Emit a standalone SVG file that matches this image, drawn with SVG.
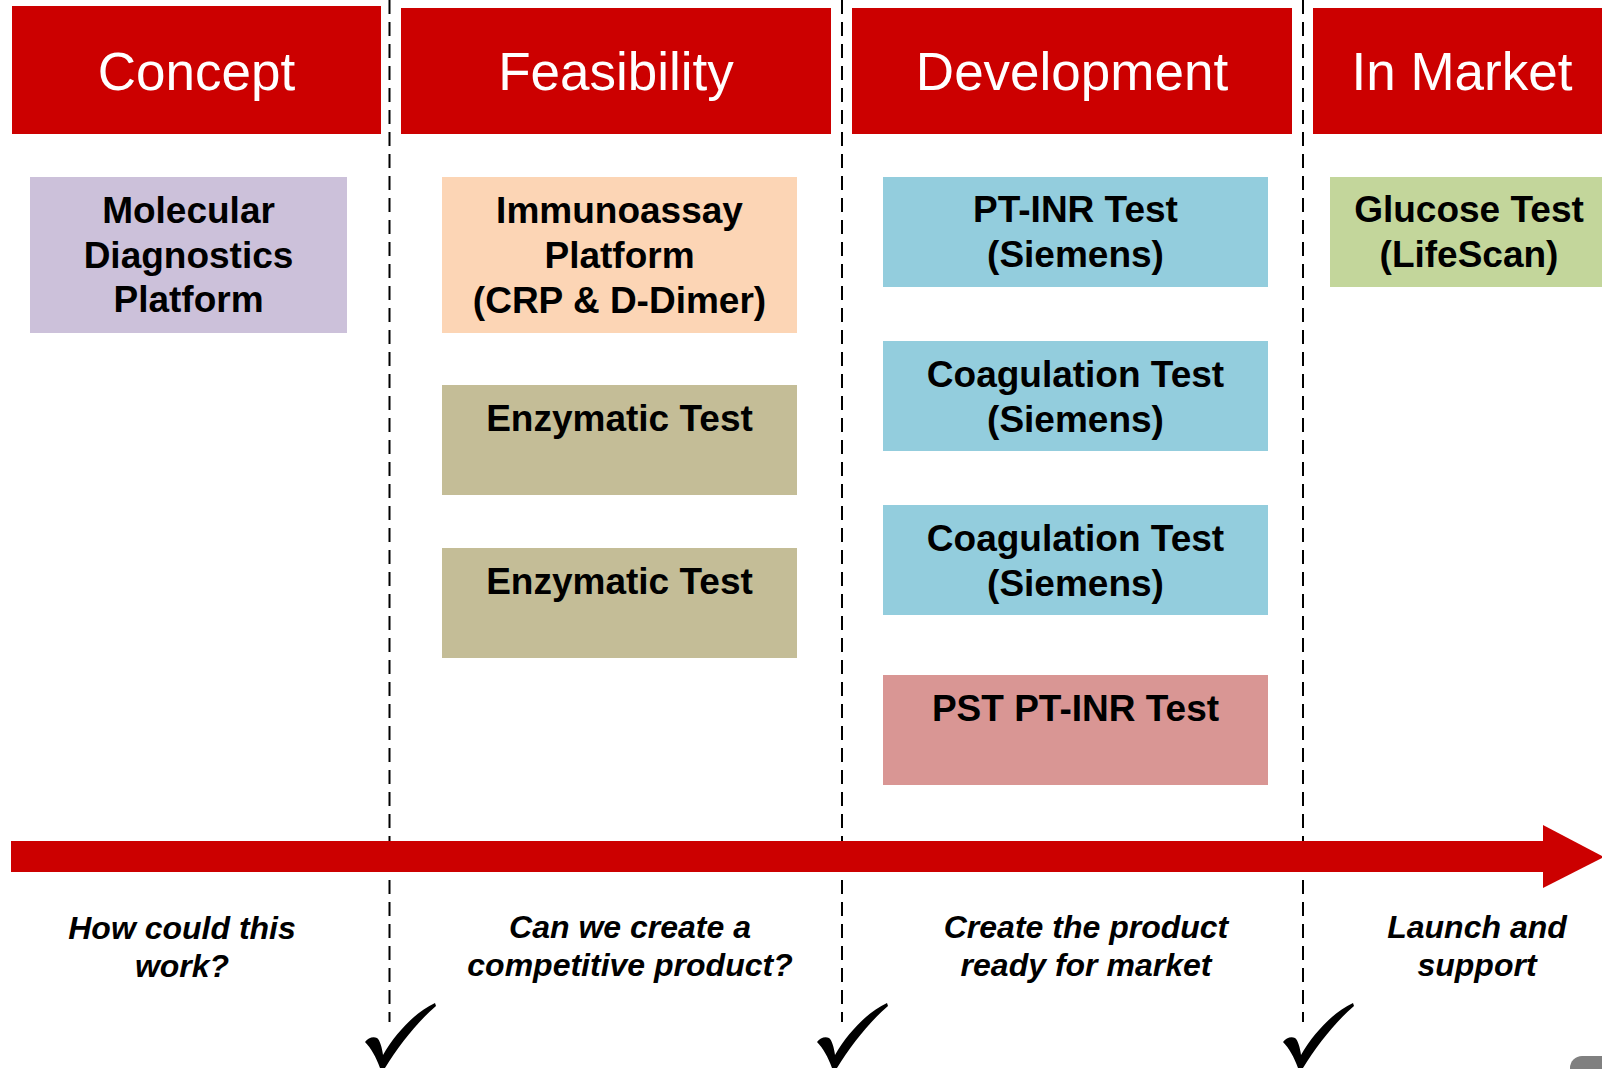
<svg xmlns="http://www.w3.org/2000/svg" width="1602" height="1069" viewBox="0 0 1602 1069">
<style>
.hdr{fill:#CC0000}
.ht{font-family:"Liberation Sans",Arial,sans-serif;font-size:53px;fill:#FFFFFF;text-anchor:middle}
.bt{font-family:"Liberation Sans",Arial,sans-serif;font-size:37px;font-weight:bold;fill:#000000;text-anchor:middle}
.it{font-family:"Liberation Sans",Arial,sans-serif;font-size:32px;font-weight:bold;font-style:italic;fill:#000000;text-anchor:middle}
.div{stroke:#000000;stroke-width:2;stroke-dasharray:14 8;fill:none}
</style>
<defs>
<path id="check" d="M0,0 C3,-4 8,-6 12,-4 C15,-2 17,6 18,13 C30,-8 50,-30 70,-39 L71,-36 C52,-20 33,5 20,26 L15,26 C11,15 6,6 0,0 Z" fill="#000000"/>
</defs>
<rect width="1602" height="1069" fill="#FFFFFF"/>

<g id="connectors">
<line class="div" x1="389.5" y1="0" x2="389.5" y2="1022"/>
<line class="div" x1="842" y1="0" x2="842" y2="1022"/>
<line class="div" x1="1303" y1="0" x2="1303" y2="1022"/>
<g id="timeline">
<rect x="11" y="841" width="1533" height="31" fill="#CC0000"/>
<polygon points="1543,825 1604,857 1543,888" fill="#CC0000"/>
</g>
</g>

<g id="hdr-concept">
<rect class="hdr" x="12" y="6" width="369" height="128"/>
<text class="ht" x="196.5" y="90">Concept</text>
</g>
<g id="hdr-feasibility">
<rect class="hdr" x="401" y="8" width="430" height="126"/>
<text class="ht" x="616" y="90">Feasibility</text>
</g>
<g id="hdr-development">
<rect class="hdr" x="852" y="8" width="440" height="126"/>
<text class="ht" x="1072" y="90">Development</text>
</g>
<g id="hdr-market">
<rect class="hdr" x="1313" y="8" width="300" height="126"/>
<text class="ht" x="1462" y="90">In Market</text>
</g>

<g id="node-molecular">
<rect x="30" y="177" width="317" height="156" fill="#CCC1DA"/>
<text class="bt" x="188.5" y="223">Molecular</text>
<text class="bt" x="188.5" y="267.5">Diagnostics</text>
<text class="bt" x="188.5" y="312">Platform</text>
</g>

<g id="node-immunoassay">
<rect x="442" y="177" width="355" height="156" fill="#FCD5B5"/>
<text class="bt" x="619.5" y="223">Immunoassay</text>
<text class="bt" x="619.5" y="268">Platform</text>
<text class="bt" x="619.5" y="313">(CRP &amp; D-Dimer)</text>
</g>
<g id="node-enzymatic1">
<rect x="442" y="385" width="355" height="110" fill="#C4BD97"/>
<text class="bt" x="619.5" y="431">Enzymatic Test</text>
</g>
<g id="node-enzymatic2">
<rect x="442" y="548" width="355" height="110" fill="#C4BD97"/>
<text class="bt" x="619.5" y="594">Enzymatic Test</text>
</g>

<g id="node-ptinr">
<rect x="883" y="177" width="385" height="110" fill="#93CDDD"/>
<text class="bt" x="1075.5" y="222">PT-INR Test</text>
<text class="bt" x="1075.5" y="267">(Siemens)</text>
</g>
<g id="node-coag1">
<rect x="883" y="341" width="385" height="110" fill="#93CDDD"/>
<text class="bt" x="1075.5" y="387">Coagulation Test</text>
<text class="bt" x="1075.5" y="432">(Siemens)</text>
</g>
<g id="node-coag2">
<rect x="883" y="505" width="385" height="110" fill="#93CDDD"/>
<text class="bt" x="1075.5" y="551">Coagulation Test</text>
<text class="bt" x="1075.5" y="596">(Siemens)</text>
</g>
<g id="node-pst">
<rect x="883" y="675" width="385" height="110" fill="#D99694"/>
<text class="bt" x="1075.5" y="721">PST PT-INR Test</text>
</g>

<g id="node-glucose">
<rect x="1330" y="177" width="280" height="110" fill="#C3D69B"/>
<text class="bt" x="1469" y="222">Glucose Test</text>
<text class="bt" x="1469" y="267">(LifeScan)</text>
</g>

<g id="captions">
<text class="it" x="182" y="939">How could this</text>
<text class="it" x="182" y="977">work?</text>
<text class="it" x="630" y="938">Can we create a</text>
<text class="it" x="630" y="976">competitive product?</text>
<text class="it" x="1086" y="938">Create the product</text>
<text class="it" x="1086" y="976">ready for market</text>
<text class="it" x="1477" y="938">Launch and</text>
<text class="it" x="1477" y="976">support</text>
</g>

<g id="checks">
<use href="#check" x="365" y="1042"/>
<use href="#check" x="817" y="1042"/>
<use href="#check" x="1283" y="1042"/>
</g>

<rect x="1570" y="1056" width="60" height="40" rx="12" fill="#808080"/>
</svg>
